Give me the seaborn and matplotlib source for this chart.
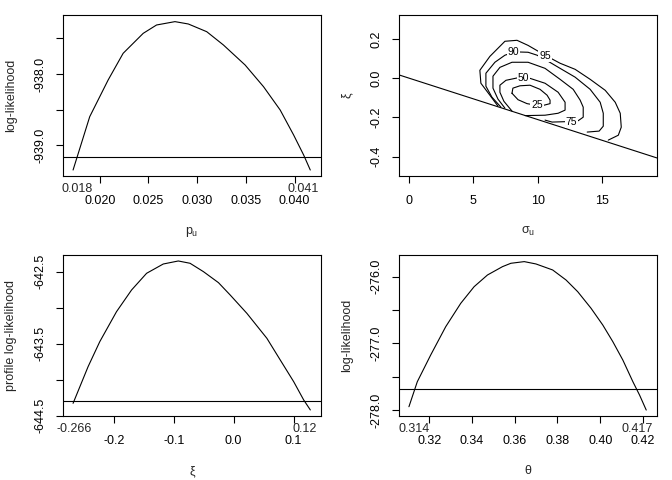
import numpy as np
import pandas as pd
import seaborn as sns
import matplotlib.pyplot as plt

# ---- panel 1: profile log-likelihood for p_u ----
p_x = [0.01726, 0.01897, 0.02086, 0.02240, 0.02446, 0.02583, 0.02772, 0.02909,
       0.03098, 0.03269, 0.03492, 0.03681, 0.03852, 0.03990, 0.04093, 0.04161]
p_y = [-939.346, -938.598, -938.084, -937.710, -937.430, -937.313, -937.266, -937.299,
       -937.407, -937.593, -937.874, -938.178, -938.505, -938.855, -939.136, -939.346]
p_level = -939.159
p_ci = [0.01766, 0.04087]
p_ci_labels = ['0.018', '0.041']
p_xticks = [0.020, 0.025, 0.030, 0.035, 0.040]
p_xticklabels = ['0.020', '0.025', '0.030', '0.035', '0.040']
p_yticks = [-937.5, -938.0, -938.5, -939.0]
p_yticklabels = ['', '-938.0', '', '-939.0']

# ---- panel 2: confidence contours for (sigma_u, xi) ----
c95_x = [6.92, 6.29, 5.59, 5.51, 6.29, 7.46, 8.40, 9.26, 10.58, 11.75, 12.92, 14.09,
         15.26, 16.04, 16.43, 16.51, 16.28, 15.50]
c95_y = [-0.143, -0.087, -0.026, 0.040, 0.111, 0.188, 0.193, 0.167, 0.117, 0.076, 0.045,
         -0.006, -0.062, -0.123, -0.179, -0.250, -0.291, -0.316]
c90_x = [7.15, 6.45, 5.98, 5.98, 6.68, 7.46, 8.24, 9.26, 9.96, 10.82, 11.75, 12.92,
         14.09, 14.87, 15.11, 15.11, 14.79, 13.86]
c90_y = [-0.148, -0.097, -0.041, 0.025, 0.081, 0.117, 0.134, 0.132, 0.117, 0.086, 0.050,
         0.005, -0.057, -0.123, -0.179, -0.245, -0.270, -0.275]
c75_x = [7.46, 6.92, 6.53, 6.53, 7.07, 8.01, 9.26, 10.58, 11.75, 12.77, 13.31, 13.55,
         13.55, 13.16, 12.14, 11.13, 10.58]
c75_y = [-0.153, -0.107, -0.051, 0.010, 0.055, 0.081, 0.081, 0.050, -0.006, -0.057,
         -0.112, -0.148, -0.199, -0.217, -0.222, -0.224, -0.214]
c50_x = [8.01, 7.38, 7.07, 7.07, 7.54, 8.48, 9.41, 10.58, 11.60, 12.14, 12.14, 11.60,
         10.58, 9.02]
c50_y = [-0.168, -0.118, -0.072, -0.036, -0.011, 0.002, -0.001, -0.026, -0.072, -0.123,
         -0.163, -0.179, -0.189, -0.191]
c25_x = [8.01, 8.08, 8.63, 9.41, 10.19, 10.74, 10.97, 10.97, 10.50, 9.88, 9.18, 8.48, 8.01]
c25_y = [-0.077, -0.051, -0.039, -0.036, -0.057, -0.087, -0.112, -0.130, -0.138, -0.138,
         -0.130, -0.110, -0.077]
contour_levels = ['95', '90', '75', '50', '25']
contour_label_x = [10.58, 8.13, 12.65, 8.91, 9.96]
contour_label_y = [0.114, 0.132, -0.222, 0.002, -0.138]
bound_intercept = 0.0
bound_slope = -0.0211
s_xticks = [0, 5, 10, 15]
s_yticks = [0.2, 0.0, -0.2, -0.4]
s_yticklabels = ['0.2', '0.0', '-0.2', '-0.4']

# ---- panel 3: profile log-likelihood for xi ----
xi_x = [-0.2680, -0.2429, -0.2234, -0.1955, -0.1704, -0.1453, -0.1175, -0.0924, -0.0728,
        -0.0505, -0.0254, -0.0059, 0.0220, 0.0554, 0.0777, 0.1001, 0.1168, 0.1279]
xi_y = [-644.329, -643.819, -643.472, -643.056, -642.755, -642.523, -642.394, -642.352,
        -642.384, -642.500, -642.653, -642.824, -643.079, -643.426, -643.727, -644.028,
        -644.282, -644.421]
xi_level = -644.301
xi_ci = [-0.2667, 0.1184]
xi_ci_labels = ['-0.266', '0.12']
xi_xticks = [-0.2, -0.1, 0.0, 0.1]
xi_xticklabels = ['-0.2', '-0.1', '0.0', '0.1']
xi_yticks = [-642.5, -643.0, -643.5, -644.0, -644.5]
xi_yticklabels = ['-642.5', '', '-643.5', '', '-644.5']

# ---- panel 4: log-likelihood for theta ----
th_x = [0.31045, 0.31437, 0.32063, 0.32767, 0.33471, 0.34097, 0.34723, 0.35427, 0.35818,
        0.36444, 0.36992, 0.37775, 0.38401, 0.38948, 0.39574, 0.40122, 0.40592, 0.41061,
        0.41531, 0.41844, 0.42156]
th_y = [-277.946, -277.572, -277.173, -276.749, -276.399, -276.150, -275.975, -275.850,
        -275.800, -275.775, -275.810, -275.900, -276.050, -276.225, -276.474, -276.724,
        -276.973, -277.248, -277.572, -277.772, -277.996]
th_level = -277.687
th_ci = [0.3129, 0.4173]
th_ci_labels = ['0.314', '0.417']
th_xticks = [0.32, 0.34, 0.36, 0.38, 0.40, 0.42]
th_xticklabels = ['0.32', '0.34', '0.36', '0.38', '0.40', '0.42']
th_yticks = [-276.0, -276.5, -277.0, -277.5, -278.0]
th_yticklabels = ['-276.0', '', '-277.0', '', '-278.0']

sns.set_style('white')
plt.rcParams['font.family'] = ['Liberation Sans', 'DejaVu Sans']
plt.rcParams['mathtext.fontset'] = 'custom'
plt.rcParams['mathtext.rm'] = 'Liberation Sans'
plt.rcParams['mathtext.it'] = 'Liberation Sans'
FS = 9
LW = 0.8

fig = plt.figure(figsize=(6.72, 4.8), dpi=100)
w, h = 258 / 672, 161 / 480
ax1 = fig.add_axes([63 / 672, 1 - 176 / 480, w, h])
ax2 = fig.add_axes([399 / 672, 1 - 176 / 480, w, h])
ax3 = fig.add_axes([63 / 672, 1 - 416 / 480, w, h])
ax4 = fig.add_axes([399 / 672, 1 - 416 / 480, w, h])


def style_axes(ax, xlabel, ylabel):
    for sp in ax.spines.values():
        sp.set_visible(True)
        sp.set_color('black')
        sp.set_linewidth(LW)
    ax.tick_params(axis='both', direction='out', length=5, width=LW, colors='black',
                   labelsize=FS, bottom=True, left=True)
    ax.tick_params(axis='x', pad=8.5)
    ax.tick_params(axis='y', pad=7)
    for lbl in ax.get_yticklabels():
        lbl.set_rotation(90)
        lbl.set_va('center')
    ax.set_xlabel(xlabel, fontsize=FS)
    ax.set_ylabel(ylabel, fontsize=FS)
    ax.xaxis.set_label_coords(0.5, -49 / 161)
    ax.yaxis.set_label_coords(-46 / 258, 0.5)
    ax.grid(False)


def ci_labels(ax, xs, labels):
    for xv, txt in zip(xs, labels):
        ax.annotate(txt, xy=(xv, 0), xycoords=('data', 'axes fraction'),
                    xytext=(0, -5.0), textcoords='offset points',
                    ha='center', va='top', fontsize=FS)


def profile_panel(ax, x, y, level, ci, ci_lab, xt, xtl, yt, ytl, xlim, ylim, xlabel, ylabel):
    df = pd.DataFrame({'x': x, 'y': y})
    sns.lineplot(data=df, x='x', y='y', ax=ax, color='black', lw=LW,
                 estimator=None, sort=False)
    ax.axhline(level, color='black', lw=LW)
    ax.set_xlim(*xlim)
    ax.set_ylim(*ylim)
    ax.set_xticks(xt, labels=xtl)
    ax.set_yticks(yt, labels=ytl)
    style_axes(ax, xlabel, ylabel)
    ci_labels(ax, ci, ci_lab)


profile_panel(ax1, p_x, p_y, p_level, p_ci, p_ci_labels, p_xticks, p_xticklabels,
              p_yticks, p_yticklabels, (0.016226, 0.04271), (-939.430, -937.173),
              '$p_u$', 'log-likelihood')
profile_panel(ax3, xi_x, xi_y, xi_level, xi_ci, xi_ci_labels, xi_xticks, xi_xticklabels,
              xi_yticks, xi_yticklabels, (-0.2848, 0.1457), (-644.505, -642.269),
              'ξ', 'profile log-likelihood')
profile_panel(ax4, th_x, th_y, th_level, th_ci, th_ci_labels, th_xticks, th_xticklabels,
              th_yticks, th_yticklabels, (0.3058, 0.4266), (-278.085, -275.676),
              'θ', 'log-likelihood')

# contour panel
contours = [(c95_x, c95_y), (c90_x, c90_y), (c75_x, c75_y), (c50_x, c50_y), (c25_x, c25_y)]
for lev, (cx, cy) in zip(contour_levels, contours):
    cdf = pd.DataFrame({'sigma': cx, 'xi': cy})
    sns.lineplot(data=cdf, x='sigma', y='xi', ax=ax2, color='black', lw=LW,
                 estimator=None, sort=False)
for lev, lx, ly in zip(contour_levels, contour_label_x, contour_label_y):
    ax2.text(lx, ly, lev, fontsize=7.5, ha='center', va='center', color='black',
             bbox=dict(boxstyle='square,pad=0.1', fc='white', ec='none'))
ax2.axline((0, bound_intercept), slope=bound_slope, color='black', lw=LW)
ax2.set_xlim(-0.78, 19.29)
ax2.set_ylim(-0.499, 0.322)
ax2.set_xticks(s_xticks, labels=[str(v) for v in s_xticks])
ax2.set_yticks(s_yticks, labels=s_yticklabels)
style_axes(ax2, '$σ_u$', 'ξ')

fig.savefig('out.png', dpi=100, facecolor='white')
